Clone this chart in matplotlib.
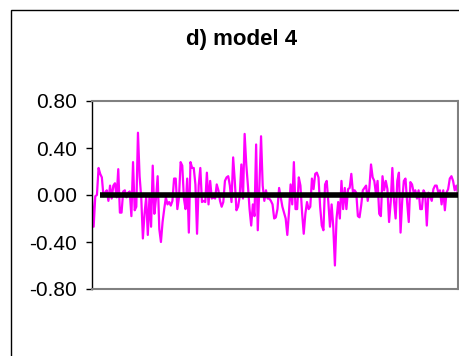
import matplotlib
matplotlib.use("Agg")
import matplotlib.pyplot as plt
import matplotlib.patches as patches
import numpy as np

# Arial-like font, as in the Excel chart
plt.rcParams["font.family"] = ["Liberation Sans", "DejaVu Sans"]
plt.rcParams["axes.unicode_minus"] = False

title = "d) model 4"
y_ticks = [-0.80, -0.40, 0.00, 0.40, 0.80]

# residual series
model4 = [
    -0.03, -0.27, -0.01, 0.00, 0.23, 0.18, 0.15, -0.01, 0.02, 0.04,
    -0.05, 0.08, -0.03, 0.08, 0.10, -0.02, 0.22, -0.15, -0.15, 0.03,
    0.04, -0.02, 0.02, 0.03, -0.18, 0.28, -0.13, -0.10, 0.53, 0.16,
    -0.02, -0.37, -0.16, -0.02, -0.34, -0.02, -0.27, 0.25, -0.16, -0.03,
    0.16, -0.29, -0.40, -0.23, -0.12, -0.02, -0.08, -0.06, -0.09, -0.05,
    0.14, 0.14, -0.12, -0.02, 0.28, 0.25, -0.03, -0.12, 0.14, -0.32,
    0.28, 0.23, 0.23, 0.09, -0.33, 0.08, 0.23, -0.06,
    -0.05, -0.06, 0.19, -0.08, 0.12, -0.03, -0.02, -0.03, 0.09, 0.04,
    -0.05, -0.10, -0.06, 0.12, 0.15, 0.16, 0.08, -0.06, 0.32, 0.12,
    -0.13, -0.10, -0.01, 0.26, -0.03, 0.52, 0.26, 0.08, -0.12, -0.26,
    -0.08, -0.18, 0.43, -0.30, 0.08, 0.50, 0.08, -0.05, 0.04, -0.03,
    -0.03, -0.05, -0.08, -0.20, -0.19, -0.12, 0.06, -0.02, -0.10, -0.15,
    -0.20, -0.34, -0.15, 0.09, -0.08, 0.28, -0.12, -0.12, 0.15, 0.08,
    -0.15, -0.33, -0.16, -0.06, -0.12, -0.10, 0.14, 0.05, 0.18, 0.19,
    0.15, -0.10, -0.26, -0.30, 0.09, 0.12, -0.06,
    -0.27, -0.08, -0.27, -0.60, -0.20, -0.06, -0.20, 0.12, -0.12, 0.06,
    -0.12, 0.05, 0.06, 0.18, 0.02, 0.04, 0.02, -0.18, -0.19, -0.09,
    0.04, 0.06, 0.08, -0.05, 0.06, 0.26, 0.15, 0.12, 0.01, 0.12,
    -0.16, -0.18, 0.16, 0.04, 0.12, 0.05, -0.23, -0.06, 0.23, -0.05,
    -0.20, 0.12, 0.19, -0.32, -0.05, 0.12, 0.14, -0.06, -0.23, 0.11,
    0.09, 0.02, 0.04, -0.03, 0.04, -0.12, -0.12, 0.04, 0.01, -0.26,
    0.02, -0.01, -0.05, 0.05, 0.08, 0.08, 0.02, 0.04, -0.08, 0.04,
    -0.13, 0.02, 0.05, 0.14, 0.16, 0.12, 0.04, 0.08, 0.01,
]
zero_start = 5  # black zero line begins a few points in

n = len(model4)
x = np.arange(n)
zero = np.full(n, np.nan)
zero[zero_start:] = 0.0

fig = plt.figure(figsize=(4.6, 3.56), dpi=100)

# outer chart border (cut off at right and bottom)
fig.patches.append(patches.Rectangle((11 / 460, -0.1), 1.2, 1.1 - 9.5 / 356,
                                     transform=fig.transFigure, fill=False,
                                     edgecolor="black", linewidth=1.0))

ax = fig.add_axes([92 / 460, 1 - 289 / 356, 366 / 460, 188 / 356])
ax.plot(x, model4, color="#FF00FF", linewidth=1.6, zorder=2)
ax.plot(x, zero, color="black", linewidth=4.0, solid_capstyle="butt", zorder=3)

ax.set_xlim(0, n - 1)
ax.set_ylim(-0.8, 0.8)
ax.set_xticks([])
ax.set_yticks(y_ticks)
ax.set_yticklabels(["%.2f" % v for v in y_ticks], fontsize=15)
ax.tick_params(axis="y", direction="out", length=4, width=1, color="black", pad=7)

for s in ["top", "right", "bottom"]:
    ax.spines[s].set_color("#808080")
    ax.spines[s].set_linewidth(1.5)
ax.spines["left"].set_color("black")
ax.spines["left"].set_linewidth(1.0)

fig.text(242 / 460, 1 - 40 / 356, title, ha="center", va="center",
         fontsize=16, fontweight="bold")

plt.savefig("out.png", dpi=100)
